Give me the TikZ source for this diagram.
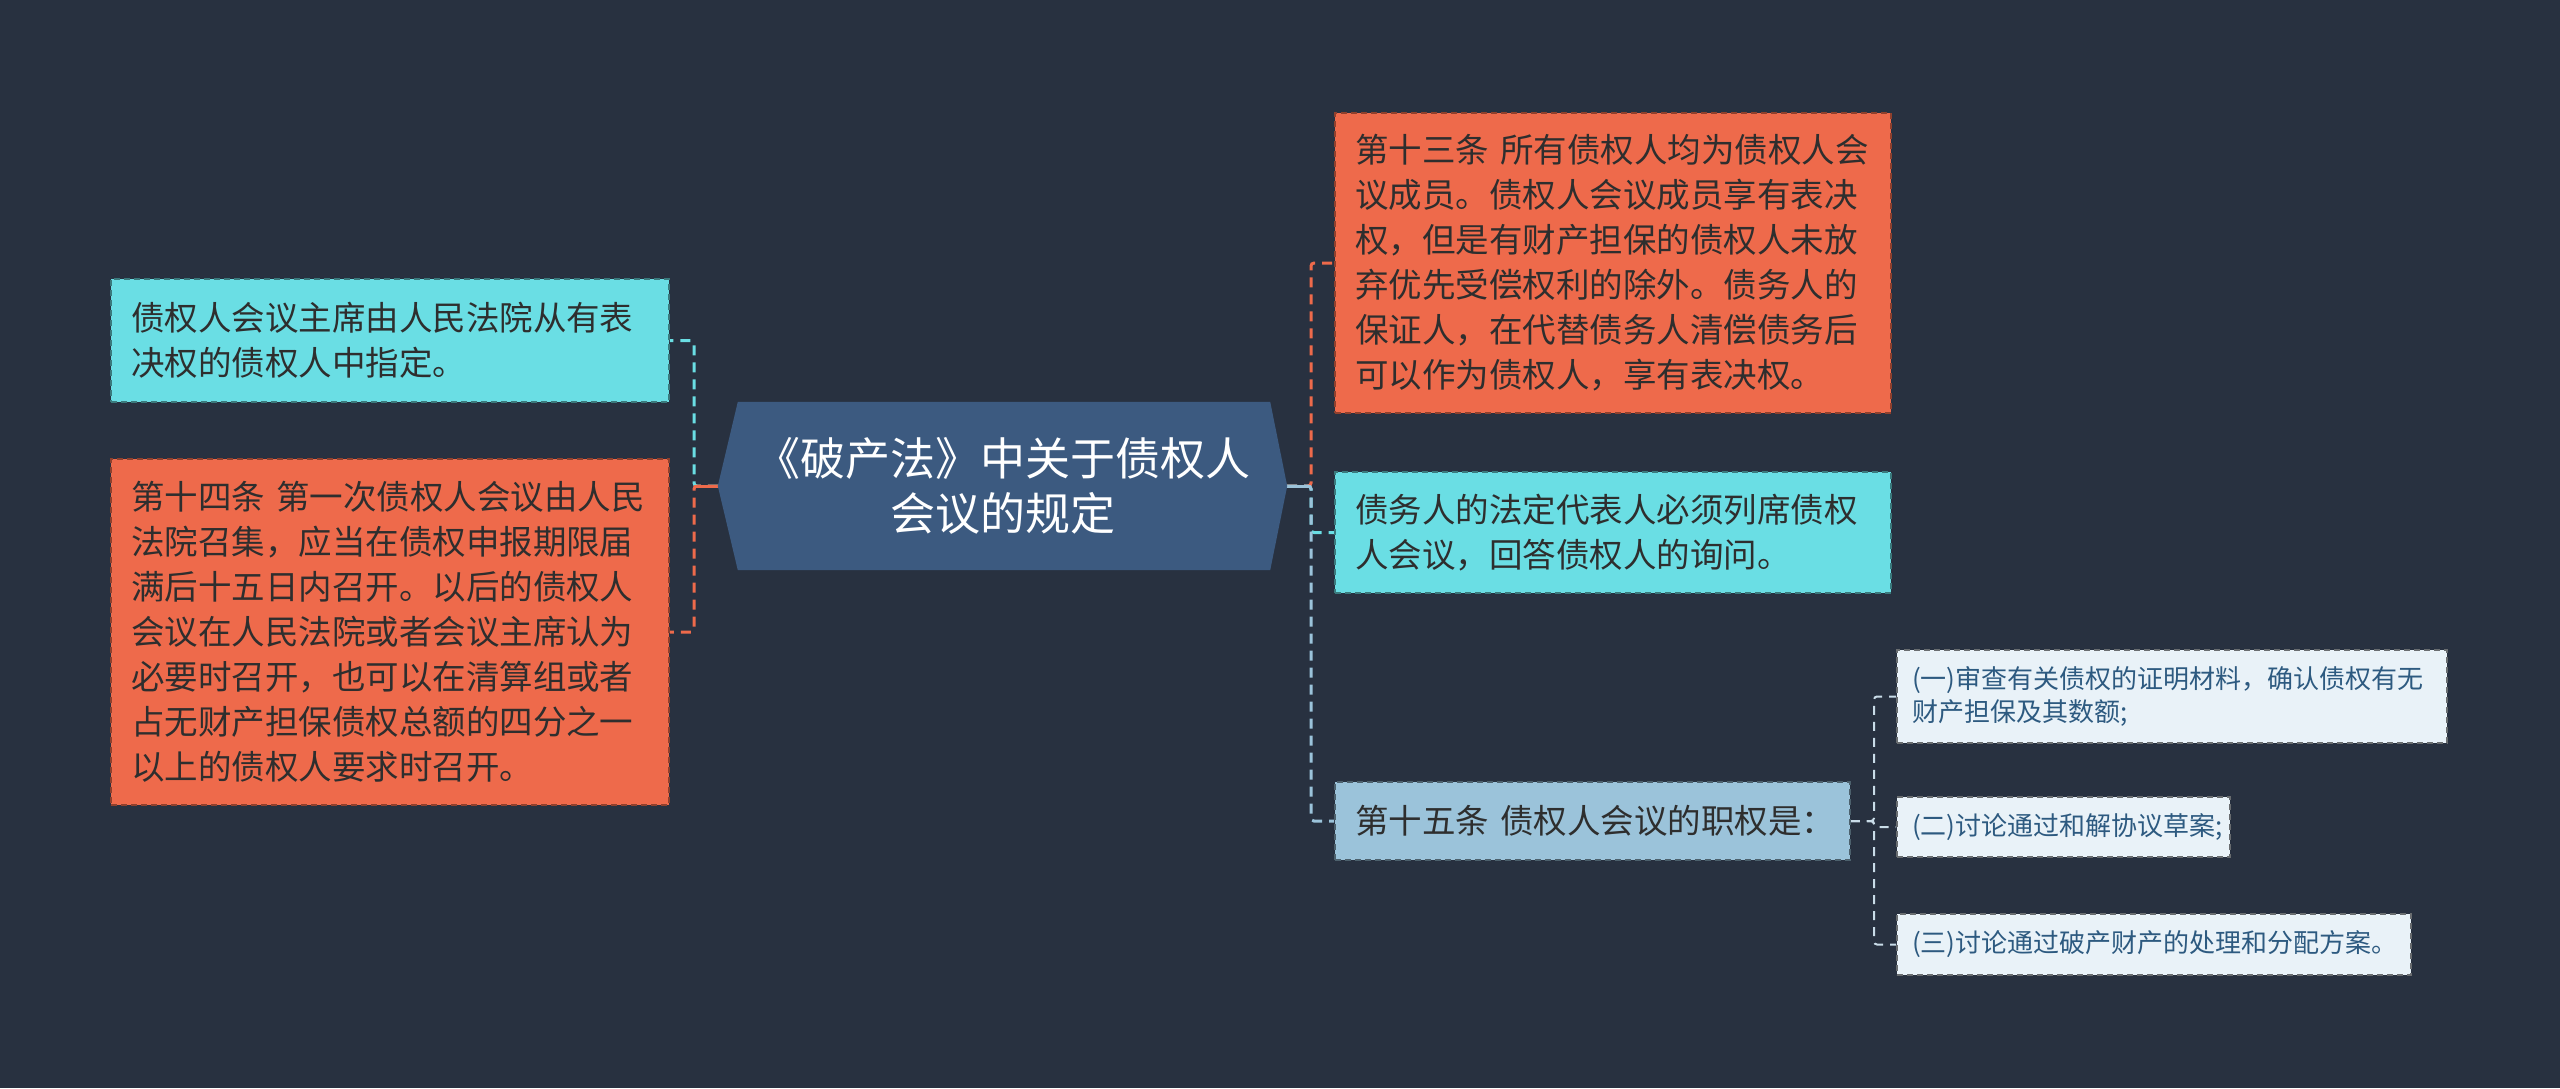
\documentclass[tikz,border=0pt]{standalone}
\usepackage{fontspec}
\setmainfont{Noto Sans CJK SC}
\definecolor{bgc}{HTML}{283140}
\definecolor{orangec}{HTML}{EE6A4B}
\definecolor{cyanc}{HTML}{6ADEE4}
\definecolor{centerc}{HTML}{3C5A80}
\definecolor{bluec}{HTML}{9BC3DA}
\definecolor{subc}{HTML}{E9F2F8}
\definecolor{subtxt}{HTML}{2D5A80}
\definecolor{subline}{HTML}{C9DCE8}
\definecolor{txtdark}{HTML}{2E2E2E}
\pgfdeclarelayer{back}
\pgfdeclarelayer{bg}
\pgfsetlayers{back,bg,main}
\tikzset{
  basebox/.style={rectangle, dash pattern=on 6pt off 4pt, line width=1.6pt, inner sep=0pt, align=left, text=txtdark, font=\fontsize{33.5}{45}\selectfont},
  orangebox/.style={basebox, fill=orangec, draw=orangec!60!black},
  cyanbox/.style={basebox, fill=cyanc, draw=cyanc!55!black},
  bluebox/.style={basebox, fill=bluec, draw=bluec!50!black},
  subbox/.style={basebox, fill=subc, draw=subc!45!black, text=subtxt, font=\fontsize{26}{33}\selectfont},
  centertext/.style={align=center, text=white, inner sep=0pt, font=\fontsize{45}{55.5}\selectfont},
  conn/.style={line width=3pt, dash pattern=on 10pt off 7pt, rounded corners=3pt},
  stub/.style={line width=3pt},
  subconn/.style={line width=2pt, dash pattern=on 9pt off 7pt, rounded corners=3pt, draw=subline}
}
\begin{document}
\begin{tikzpicture}[x=1pt,y=-1pt]
\begin{pgfonlayer}{back}
\fill[bgc] (0,0) rectangle (2560,1088);
\end{pgfonlayer}
\useasboundingbox (0,0) rectangle (2560,1088);

% center shape
\node[minimum width=569pt, minimum height=168pt, inner sep=0pt] (c) at (1002.5,486) {};
\fill[centerc] (c.west) -- ([xshift=20pt]c.north west) -- ([xshift=-17pt]c.north east)
  -- (c.east) -- ([xshift=-17pt]c.south east) -- ([xshift=20pt]c.south west) -- cycle;
\node[centertext] (ct) at (1002.5,486) {《破产法》中关于债权人\\会议的规定};

% bus coordinates
\coordinate (lb) at (694,486);
\coordinate (rb) at (1311,486);
\coordinate (sb) at (1874,821);

% nodes
\node[cyanbox, minimum width=558pt, minimum height=123pt, text width=518pt] (l1) at (390,340.5)
  {债权人会议主席由人民法院从有表\\决权的债权人中指定。};
\node[orangebox, minimum width=558pt, minimum height=346pt, text width=518pt] (l2) at (390,632)
  {第十四条~第一次债权人会议由人民\\法院召集，应当在债权申报期限届\\满后十五日内召开。以后的债权人\\会议在人民法院或者会议主席认为\\必要时召开，也可以在清算组或者\\占无财产担保债权总额的四分之一\\以上的债权人要求时召开。};
\node[orangebox, minimum width=556pt, minimum height=300pt, text width=516pt] (r1) at (1613,263)
  {第十三条~所有债权人均为债权人会\\议成员。债权人会议成员享有表决\\权，但是有财产担保的债权人未放\\弃优先受偿权利的除外。债务人的\\保证人，在代替债务人清偿债务后\\可以作为债权人，享有表决权。};
\node[cyanbox, minimum width=556pt, minimum height=121pt, text width=516pt] (r2) at (1613,532.5)
  {债务人的法定代表人必须列席债权\\人会议，回答债权人的询问。};
\node[bluebox, minimum width=515pt, minimum height=78pt, text width=475pt] (r3) at (1592.5,821)
  {第十五条~债权人会议的职权是：};
\node[subbox, minimum width=550pt, minimum height=93pt, text width=520pt] (s1) at (2172,696.5)
  {(一)审查有关债权的证明材料，确认债权有无\\财产担保及其数额;};
\node[subbox, minimum width=333pt, minimum height=60pt, text width=303pt] (s2) at (2063.5,827)
  {(二)讨论通过和解协议草案;};
\node[subbox, minimum width=514pt, minimum height=61pt, text width=484pt] (s3) at (2154,944.5)
  {(三)讨论通过破产财产的处理和分配方案。};

% connectors (behind boxes)
\begin{pgfonlayer}{bg}
\draw[conn, cyanc] (c.west) -- (lb) |- (l1.east);
\draw[conn, orangec] (c.west) -- (lb) |- (l2.east);
\draw[conn, cyanc] (c.east) -- (rb) |- (r2.west);
\draw[conn, orangec] (c.east) -- (rb) |- (r1.west);
\draw[conn, bluec] (c.east) -- (rb) |- (r3.west);
\draw[stub, orangec] (c.west) -- (lb);
\draw[stub, bluec] (c.east) -- (rb);
\draw[subconn] (r3.east) -- (sb) |- (s1.west);
\draw[subconn] (r3.east) -- (sb) |- (s2.west);
\draw[subconn] (r3.east) -- (sb) |- (s3.west);
\end{pgfonlayer}

\end{tikzpicture}
\end{document}
